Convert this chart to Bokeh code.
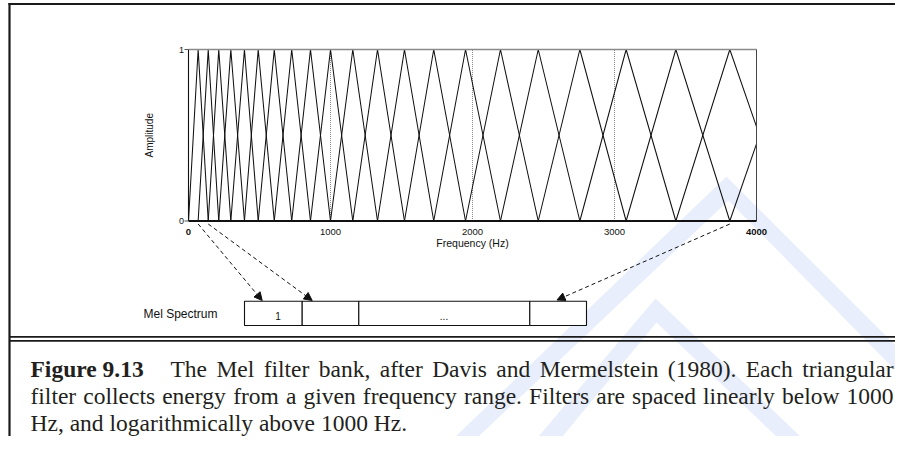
import math
from bokeh.plotting import figure
from bokeh.models import Range1d, Arrow, NormalHead
from bokeh.core.properties import value
from bokeh.embed import file_html
from bokeh.resources import INLINE

# ---------------- data ----------------
filter_centers_hz = [0, 68, 139, 213, 298, 394, 491, 604, 727, 859, 1000,
                     1157, 1331, 1521, 1727, 1951, 2197, 2463, 2756, 3082,
                     3432, 3812]
freq_max = 4000
last_falling_at_max = 0.55   # last full filter, value at 4000 Hz
next_rising_at_max = 0.45    # next (clipped) filter, value at 4000 Hz
freq_ticks = [0, 1000, 2000, 3000, 4000]
freq_tick_labels = ["0", "1000", "2000", "3000", "4000"]
freq_tick_bold = [True, False, False, False, True]
amp_ticks = [0, 1]
amp_tick_labels = ["0", "1"]
dotted_freqs = [1000, 2000, 3000]
mel_cells = ["1", "", "...", ""]
arrow_from_hz = [68, 139, 3812]
caption_bold = "Figure 9.13"
caption_line1 = "The Mel filter bank, after Davis and Mermelstein (1980). Each triangular"
caption_line2 = "filter collects energy from a given frequency range. Filters are spaced linearly below 1000"
caption_line3 = "Hz, and logarithmically above 1000 Hz."

# ---------------- layout (page pixels) ----------------
W, H = 895, 436
X0, Y0 = 0, 0
FX0, FX1 = 188, 756        # x of 0 Hz and 4000 Hz
AY0, AY1 = 220.5, 49       # y of amplitude 0 and 1
SANS = value("Liberation Sans")
SERIF = value("Liberation Serif")
CAP_SIZE = 23.5

fpp = freq_max / (FX1 - FX0)
app = 1.0 / (AY0 - AY1)

p = figure(width=W, height=H, x_range=Range1d(X0, X0 + W), y_range=Range1d(Y0 + H, Y0),
           x_axis_type=None, y_axis_type=None, output_backend="svg",
           toolbar_location=None, min_border=0)
p.outline_line_color = None
p.grid.visible = False
p.background_fill_color = "white"
p.border_fill_color = "white"
p.extra_x_ranges = {"freq": Range1d(-(FX0 - X0) * fpp, (X0 + W - FX0) * fpp)}
p.extra_y_ranges = {"amp": Range1d(-(Y0 + H - AY0) * app, (AY0 - Y0) * app)}

# ---------------- watermark ----------------
wm = "#e8eefc"
p.patch([455, 478, 728, 895, 895, 726], [436, 436, 200, 370, 345, 176], color=wm, line_color=None)
p.patch([538, 562, 656, 776, 800, 655], [436, 436, 322, 436, 436, 298], color=wm, line_color=None)

# ---------------- outer frame ----------------
p.segment(x0=[9, 8], y0=[2.5, 3.5], x1=[9, 895], y1=[436, 3.5], line_color="#1a1a1a", line_width=2.2)
p.segment(x0=[9, 9], y0=[336.3, 340.3], x1=[895, 895], y1=[336.3, 340.3],
          line_color="#1a1a1a", line_width=1.8)

# ---------------- filter bank ----------------
fx, fy = [], []
c = filter_centers_hz
for i in range(1, len(c) - 1):
    fx.append([c[i - 1], c[i], c[i + 1]])
    fy.append([0, 1, 0])
fx.append([c[-2], c[-1], freq_max])
fy.append([0, 1, last_falling_at_max])
fx.append([c[-1], freq_max])
fy.append([0, next_rising_at_max])

p.segment(x0=dotted_freqs, y0=[0] * len(dotted_freqs), x1=dotted_freqs, y1=[1] * len(dotted_freqs),
          line_color="#888888", line_dash="1 1", line_width=1,
          x_range_name="freq", y_range_name="amp")
p.multi_line(xs=fx, ys=fy, line_color="#111111", line_width=1.05,
             x_range_name="freq", y_range_name="amp")

# axes box
p.line([0, freq_max], [1, 1], line_color="#8a8a8a", line_width=1.6, x_range_name="freq", y_range_name="amp")
p.line([freq_max, freq_max], [0, 1], line_color="#444444", line_width=1, x_range_name="freq", y_range_name="amp")
p.line([0, 0], [0, 1], line_color="#111111", line_width=1.1, x_range_name="freq", y_range_name="amp")
p.line([0, freq_max], [0, 0], line_color="#111111", line_width=2.2, x_range_name="freq", y_range_name="amp")

# y ticks
p.segment(x0=[FX0 - 4] * 2, y0=amp_ticks, x1=[FX0] * 2, y1=amp_ticks, line_color="#555555",
          line_width=1, y_range_name="amp")
p.text(x=[FX0 - 4.5] * 2, y=amp_ticks, text=amp_tick_labels, text_font=SANS, text_font_size="9px",
       text_align="right", text_baseline="middle", text_color="#111111", y_range_name="amp")

# x tick labels
for f, lab, b in zip(freq_ticks, freq_tick_labels, freq_tick_bold):
    p.text(x=[f], y=[231], text=[lab], text_font=SANS, text_font_size="9.5px",
           text_font_style="bold" if b else "normal", text_align="center",
           text_baseline="middle", text_color="#111111", x_range_name="freq")

p.text(x=[freq_max / 2], y=[242.5], text=["Frequency (Hz)"], text_font=SANS, text_font_size="10.5px",
       text_align="center", text_baseline="middle", text_color="#111111", x_range_name="freq")
p.text(x=[149], y=[0.5], text=["Amplitude"], text_font=SANS, text_font_size="10px", angle=math.pi / 2,
       text_align="center", text_baseline="middle", text_color="#111111", y_range_name="amp")

# ---------------- mel spectrum box ----------------
edges = [244, 301.7, 358.3, 529.3, 586]
btop, bbot = 300.7, 325
p.quad(left=edges[:-1], right=edges[1:], top=[btop] * 4, bottom=[bbot] * 4,
       fill_color="white", line_color="#111111", line_width=1.1)
label_x = [277.5, 330, 443.5, 557]
p.text(x=label_x, y=[315] * 4, text=mel_cells, text_font=SANS, text_font_size="10px",
       text_align="center", text_baseline="middle", text_color="#111111")
p.text(x=[217], y=[313], text=["Mel Spectrum"], text_font=SANS, text_font_size="12px",
       text_align="right", text_baseline="middle", text_color="#111111")

# arrows (start below the filter peaks, end at the cells)
arrow_ends = [(261.7, 300), (311.7, 300), (556.5, 299.5)]
for hz, (ex, ey) in zip(arrow_from_hz, arrow_ends):
    sx = FX0 + hz / fpp
    p.add_layout(Arrow(x_start=sx, y_start=223.5, x_end=ex, y_end=ey, line_color="#111111",
                       line_width=1, line_dash="4 3",
                       end=NormalHead(size=8, fill_color="#111111", line_color="#111111")))

# ---------------- caption (justified word by word, Times metrics) ----------------
TR = {' ': 250, '(': 333, ')': 333, ',': 250, '.': 250, 'A': 722, 'D': 722, 'E': 611, 'F': 556,
      'H': 722, 'M': 889, 'T': 611, 'a': 444, 'b': 500, 'c': 444, 'd': 500, 'e': 444, 'f': 333,
      'g': 500, 'h': 500, 'i': 278, 'k': 500, 'l': 278, 'm': 778, 'n': 500, 'o': 500, 'p': 500,
      'q': 500, 'r': 333, 's': 389, 't': 278, 'u': 500, 'v': 500, 'w': 722, 'y': 500, 'z': 444}


def wwidth(w):
    return sum(TR.get(ch, 500) for ch in w) * CAP_SIZE / 1000.0


def justify(words, x_left, x_right):
    widths = [wwidth(w) for w in words]
    gap = (x_right - x_left - sum(widths)) / (len(words) - 1)
    xs, x = [], x_left
    for wd in widths:
        xs.append(x)
        x += wd + gap
    return xs


LEFT, RIGHT = 30, 893
MID = [368.5, 395.5, 422]
cap_kw = dict(text_font=SERIF, text_font_size=f"{CAP_SIZE}px", text_align="left",
              text_baseline="middle", text_color="#231f20")
p.text(x=[LEFT], y=[MID[0]], text=[caption_bold], text_font_style="bold", **cap_kw)
w1 = caption_line1.split(" ")
p.text(x=justify(w1, 170, RIGHT), y=[MID[0]] * len(w1), text=w1, **cap_kw)
w2 = caption_line2.split(" ")
p.text(x=justify(w2, LEFT, RIGHT), y=[MID[1]] * len(w2), text=w2, **cap_kw)
p.text(x=[LEFT], y=[MID[2]], text=[caption_line3], **cap_kw)

open("out.html", "w").write(file_html(p, INLINE))
